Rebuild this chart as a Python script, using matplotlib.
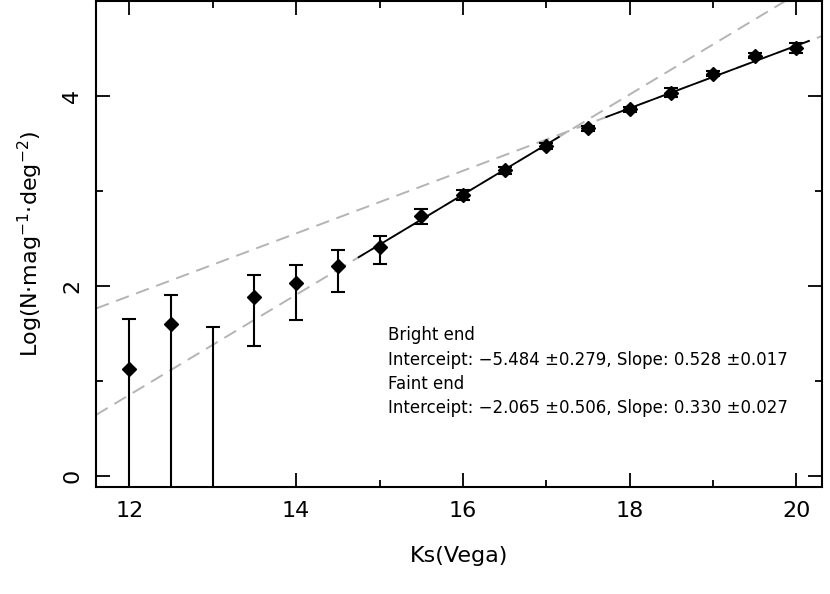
import numpy as np
import matplotlib
matplotlib.use("Agg")
import matplotlib.pyplot as plt

# DATA
kmag = [12.0, 12.5, 13.0, 13.5, 14.0, 14.5, 15.0, 15.5, 16.0, 16.5, 17.0, 17.5, 18.0, 18.5, 19.0, 19.5, 20.0]
logn = [1.13, 1.60, np.nan, 1.88, 2.03, 2.21, 2.41, 2.74, 2.96, 3.22, 3.48, 3.67, 3.87, 4.04, 4.24, 4.43, 4.51]
err_hi = [1.65, 1.91, 1.57, 2.12, 2.22, 2.38, 2.53, 2.81, 3.01, 3.26, 3.51, 3.69, 3.89, 4.09, 4.27, 4.46, 4.56]
err_lo = [-0.5, -0.5, -0.5, 1.37, 1.64, 1.94, 2.23, 2.65, 2.91, 3.18, 3.45, 3.64, 3.84, 3.99, 4.21, 4.40, 4.46]

# fits: (intercept, slope, solid range)
bright_fit = (-5.484, 0.528)
bright_range = (14.75, 17.15)
faint_fit = (-2.065, 0.330)
faint_range = (17.72, 20.15)

txt = ["Bright end",
       "Interceipt: \u22125.484 \u00b10.279, Slope: 0.528 \u00b10.017",
       "Faint end",
       "Interceipt: \u22122.065 \u00b10.506, Slope: 0.330 \u00b10.027"]

xlim = (11.6, 20.31)
ylim = (-0.12, 5.01)

fig = plt.figure(figsize=(8.3, 5.94), dpi=100)
ax = fig.add_axes([0.1157, 0.180, 0.875, 0.819])

# dashed extensions of both fits
xx = np.array(xlim)
for a, b in (bright_fit, faint_fit):
    ax.plot(xx, a + b * xx, color="#b4b4b4", lw=1.4, ls=(0, (7, 4)), zorder=1)

# solid fit segments
for (a, b), (x0, x1) in ((bright_fit, bright_range), (faint_fit, faint_range)):
    xs = np.array([x0, x1])
    ax.plot(xs, a + b * xs, color="black", lw=1.3, zorder=2)

# error bars
lo = np.array(err_lo)
hi = np.array(err_hi)
ax.errorbar(kmag, (lo + hi) / 2, yerr=(hi - lo) / 2, fmt="none", ecolor="black",
            elinewidth=1.5, capsize=5, capthick=1.5, zorder=3)
ax.plot(kmag, logn, "D", color="black", ms=7.5, zorder=4)

for i, t in enumerate(txt):
    ax.text(15.1, 1.48 - i * 0.255, t, fontsize=12, va="center", ha="left")

ax.set_xlim(*xlim)
ax.set_ylim(*ylim)
ax.set_xticks([12, 14, 16, 18, 20])
ax.set_xticks([13, 15, 17, 19], minor=True)
ax.set_yticks([0, 2, 4])
ax.set_yticks([1, 3], minor=True)
ax.tick_params(which="both", direction="in", top=True, right=True, width=1.3, labelsize=16)
ax.tick_params(which="major", length=10, pad=10)
ax.tick_params(which="minor", length=5)
for lab in ax.get_yticklabels():
    lab.set_rotation(90)
    lab.set_va("center")
for s in ax.spines.values():
    s.set_linewidth(1.5)

ax.set_xlabel("Ks(Vega)", fontsize=16, labelpad=18)
ax.set_ylabel("Log(N\u00b7mag$^{-1}$\u00b7deg$^{-2}$)", fontsize=16, labelpad=12)

fig.savefig("out.png", dpi=100)
